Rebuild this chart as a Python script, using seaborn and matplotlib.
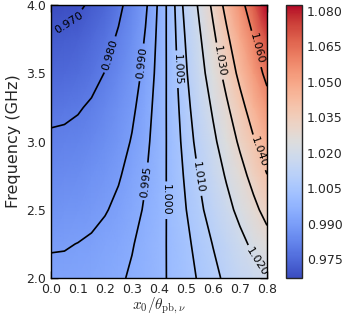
import numpy as np
import matplotlib
matplotlib.use("Agg")
import matplotlib.pyplot as plt
import seaborn as sns

# grid
x_ratio = [0.0, 0.05, 0.1, 0.15, 0.2, 0.25, 0.3, 0.35, 0.4,
           0.45, 0.5, 0.55, 0.6, 0.65, 0.7, 0.75, 0.8]
freq_ghz = [2.0, 2.25, 2.5, 2.75, 3.0, 3.25, 3.5, 3.75, 4.0]

# one row per frequency, one column per x0/theta
ratio_f200 = [0.9914, 0.9915, 0.9919, 0.9925, 0.9933, 0.9943, 0.9956, 0.9972, 0.9989,
              1.0009, 1.0031, 1.0056, 1.0083, 1.0113, 1.0144, 1.0170, 1.0195]
ratio_f225 = [0.9895, 0.9896, 0.9901, 0.9908, 0.9918, 0.9931, 0.9947, 0.9965, 0.9987,
              1.0011, 1.0038, 1.0069, 1.0102, 1.0137, 1.0176, 1.0218, 1.0262]
ratio_f250 = [0.9867, 0.9869, 0.9874, 0.9883, 0.9896, 0.9912, 0.9932, 0.9956, 0.9983,
              1.0014, 1.0049, 1.0087, 1.0129, 1.0174, 1.0223, 1.0276, 1.0332]
ratio_f275 = [0.9841, 0.9843, 0.9850, 0.9861, 0.9876, 0.9895, 0.9919, 0.9947, 0.9980,
              1.0017, 1.0058, 1.0104, 1.0154, 1.0208, 1.0267, 1.0330, 1.0397]
ratio_f300 = [0.9812, 0.9815, 0.9822, 0.9835, 0.9853, 0.9876, 0.9904, 0.9938, 0.9976,
              1.0020, 1.0069, 1.0123, 1.0182, 1.0246, 1.0315, 1.0390, 1.0469]
ratio_f325 = [0.9782, 0.9785, 0.9794, 0.9809, 0.9830, 0.9856, 0.9889, 0.9928, 0.9973,
              1.0023, 1.0080, 1.0142, 1.0211, 1.0285, 1.0366, 1.0452, 1.0544]
ratio_f350 = [0.9746, 0.9749, 0.9760, 0.9777, 0.9802, 0.9833, 0.9871, 0.9916, 0.9968,
              1.0027, 1.0093, 1.0166, 1.0246, 1.0332, 1.0426, 1.0527, 1.0634]
ratio_f375 = [0.9712, 0.9716, 0.9728, 0.9747, 0.9775, 0.9810, 0.9854, 0.9905, 0.9964,
              1.0031, 1.0105, 1.0188, 1.0279, 1.0377, 1.0483, 1.0597, 1.0719]
ratio_f400 = [0.9670, 0.9675, 0.9688, 0.9711, 0.9742, 0.9783, 0.9832, 0.9891, 0.9959,
              1.0035, 1.0121, 1.0215, 1.0319, 1.0432, 1.0554, 1.0684, 1.0824]

line_levels = [0.970, 0.980, 0.990, 0.995, 1.000, 1.005, 1.010, 1.020, 1.030, 1.040, 1.060]
cbar_ticks = [0.975, 0.990, 1.005, 1.020, 1.035, 1.050, 1.065, 1.080]

Z = np.array([ratio_f200, ratio_f225, ratio_f250, ratio_f275, ratio_f300,
              ratio_f325, ratio_f350, ratio_f375, ratio_f400])

sns.set_style("ticks")
plt.rcParams['font.family'] = ['DejaVu Sans']
plt.rcParams['mathtext.fontset'] = 'cm'

fig = plt.figure(figsize=(3.49, 3.17), dpi=100)
ax = fig.add_axes([0.146, 0.123, 0.619, 0.861])
cax = fig.add_axes([0.8195, 0.123, 0.0458, 0.861])

cmap = sns.color_palette("coolwarm", as_cmap=True)
mesh = ax.pcolormesh(x_ratio, freq_ghz, Z, shading='gouraud', cmap=cmap,
                     vmin=Z.min(), vmax=Z.max())
cs = ax.contour(x_ratio, freq_ghz, Z, levels=line_levels, colors='k', linewidths=1.2)

# label spots (roughly where they sit in the original)
label_spots = [(0.063, 3.88), (0.215, 3.64), (0.337, 3.58), (0.344, 2.71),
               (0.43, 2.57), (0.47, 3.53), (0.552, 2.74), (0.763, 2.12),
               (0.626, 3.59), (0.77, 2.92), (0.763, 3.68)]
ax.clabel(cs, fmt='%.3f', fontsize=8, manual=label_spots, inline_spacing=3)

ax.set_xlim(0, 0.8)
ax.set_ylim(2.0, 4.0)
ax.set_xticks([0.0, 0.1, 0.2, 0.3, 0.4, 0.5, 0.6, 0.7, 0.8])
ax.set_yticks([2.0, 2.5, 3.0, 3.5, 4.0])
ax.tick_params(direction='in', top=True, right=True, length=5, width=1,
               labelsize=9, color='k')
for sp in ax.spines.values():
    sp.set_linewidth(1)
    sp.set_color('k')
ax.set_xlabel(r'$x_0/\theta_{\rm pb,\nu}$', fontsize=11, labelpad=0)
ax.set_ylabel('Frequency (GHz)', fontsize=11.5, labelpad=4)

cb = fig.colorbar(mesh, cax=cax, ticks=cbar_ticks)
cb.ax.yaxis.set_major_formatter('{x:.3f}')
cb.ax.tick_params(direction='in', length=5, width=1, labelsize=9)
cb.outline.set_linewidth(1)

fig.savefig('out.png', dpi=100)
